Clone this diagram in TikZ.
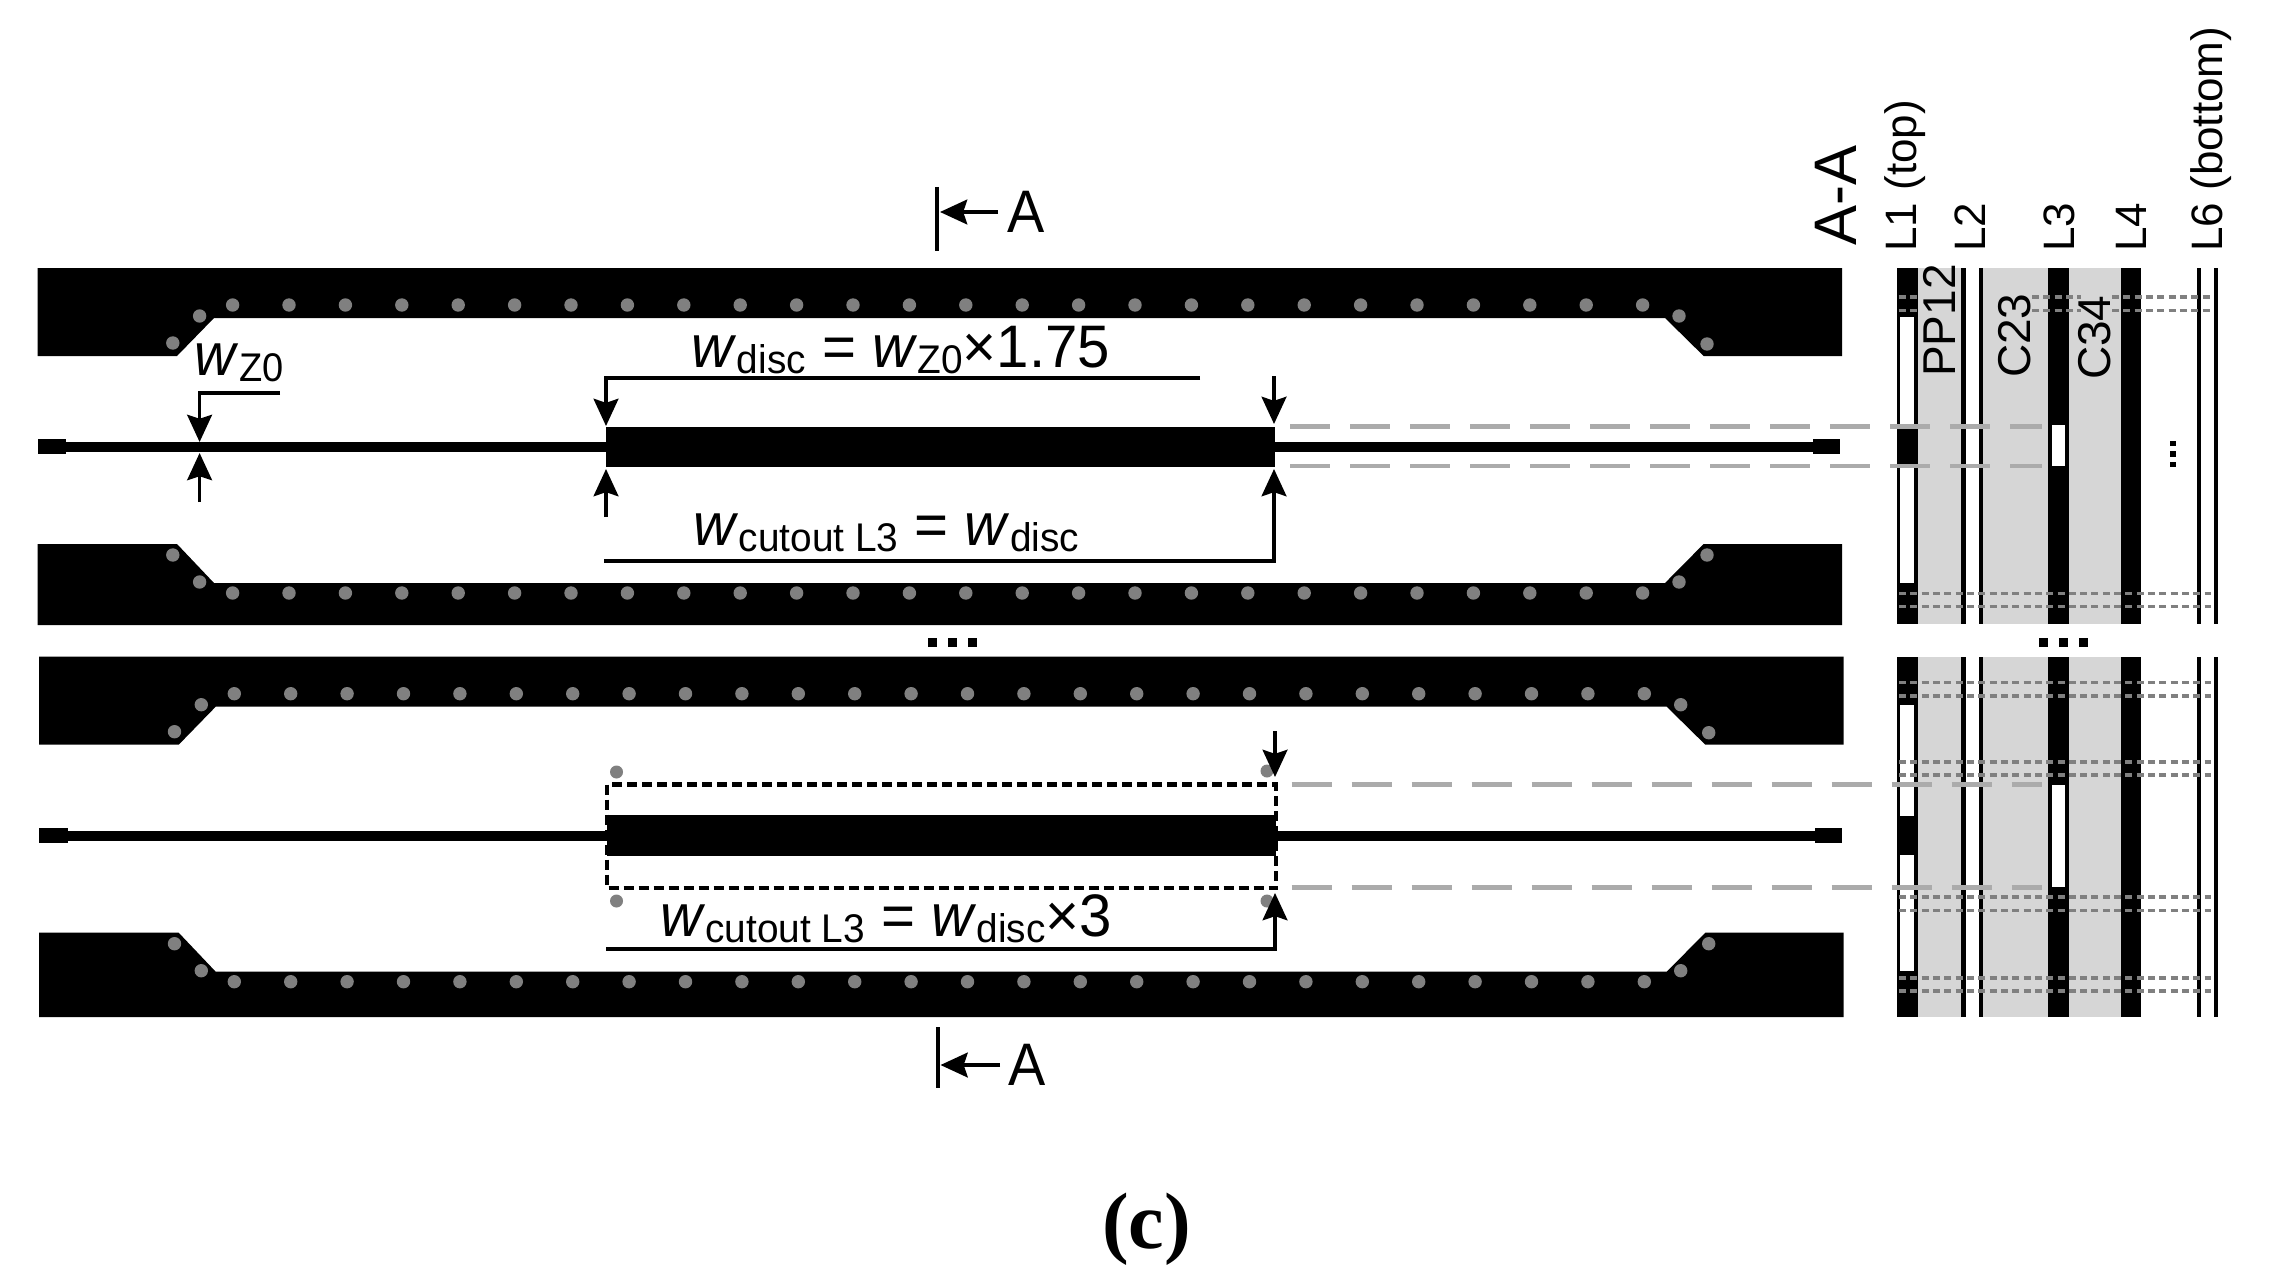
\documentclass[tikz,border=0pt]{standalone}
\usepackage{fontspec}
\usepackage{graphicx}
\setmainfont{Liberation Sans}
\newfontfamily\capfont{Liberation Serif}
\usetikzlibrary{arrows.meta}
\newcommand{\sz}[1]{\fontsize{#1}{#1}\selectfont}
\newcommand{\subt}[1]{\raisebox{-1.5pt}{\sz{10}#1}}
\newcommand{\narrow}[2]{\scalebox{#1}[1]{#2}}
\definecolor{viagray}{gray}{0.5}
\definecolor{panelgray}{gray}{0.84}
\definecolor{dashgray}{gray}{0.67}
\tikzset{
  lab/.style={inner sep=0pt,anchor=base west,font=\sz{15},text=black},
  vlab/.style={inner sep=0pt,anchor=base west,rotate=90,font=\sz{11},text=black},
  vlabb/.style={vlab,font=\sz{11.5}},
  dimline/.style={draw=black,line width=0.85pt,-{Stealth[length=6.8pt,width=6.2pt,inset=1pt]}},
  plainline/.style={draw=black,line width=0.85pt},
  via/.style={fill=viagray},
  metal/.style={fill=black},
  guide/.style={draw=dashgray,line width=1.2pt,dash pattern=on 10pt off 5pt},
  viarow/.style={draw=viagray,line width=0.9pt,dash pattern=on 1.75pt off 1.08pt},
  cutrect/.style={draw=black,line width=1.15pt,dash pattern=on 2.5pt off 1.25pt}
}
% one coplanar line seen from above: #1 = local y of the lower plane's bottom edge
\newcommand{\gcpwline}[1]{
  \fill[metal] (37.5,268) -- (1842,268) -- (1842,356) -- (1703.6,356) -- (1665,318) -- (214,318) -- (177,356) -- (37.5,356) -- cycle;
  \fill[metal] (37.5,#1) -- (1842,#1) -- (1842,544) -- (1703.6,544) -- (1665,583) -- (214,583) -- (177,544) -- (37.5,544) -- cycle;
  \foreach \i in {0,...,25} {
    \fill[via] ({232.6+56.4*\i},305) circle[radius=6.7];
    \fill[via] ({232.6+56.4*\i},593) circle[radius=6.7];
  }
  \foreach \vx/\vy in {199.6/316,172.8/343,1679/316,1707/344,199.6/582,172.8/555,1679/582,1707/555} {
    \fill[via] (\vx,\vy) circle[radius=6.7];
  }
  \fill[metal] (37.5,439) rectangle (66,454);
  \fill[metal] (1813,439) rectangle (1840,454);
  \fill[metal] (66,442) rectangle (606,452);
  \fill[metal] (1274.5,442) rectangle (1813,452);
}
\newcommand{\stackup}[2]{
  \fill[panelgray] (1917,#1) rectangle (1962,#2);
  \fill[panelgray] (1982,#1) rectangle (2049,#2);
  \fill[panelgray] (2068,#1) rectangle (2121,#2);
  \fill[metal] (1896.7,#1) rectangle (1917.5,#2);
  \fill[metal] (1961.3,#1) rectangle (1965.6,#2);
  \fill[metal] (1978.6,#1) rectangle (1982.8,#2);
  \fill[metal] (2048.2,#1) rectangle (2068.6,#2);
  \fill[metal] (2120.6,#1) rectangle (2140.8,#2);
  \fill[metal] (2196.8,#1) rectangle (2200.8,#2);
  \fill[metal] (2214.3,#1) rectangle (2218,#2);
}
\begin{document}
\begin{tikzpicture}[x=0.25pt,y=-0.25pt]
\useasboundingbox (0,0) rectangle (2276,1284);
\fill[white] (0,0) rectangle (2276,1284);

% upper line
\gcpwline{625}
\fill[metal] (606,427) rectangle (1274.5,467);

% lower line, with the L3 cutout outline and the neighbouring vias
\begin{scope}[shift={(1.7,388.7)}]
  \gcpwline{628.3}
\end{scope}
\foreach \vx/\vy in {616.5/772,616.5/901,1267/771,1267/901} {
  \fill[via] (\vx,\vy) circle[radius=6.5];
}
\draw[cutrect] (607,784.5) rectangle (1276,888);
\fill[metal] (607,815) rectangle (1276,856);

% dimension arrows, upper line
\coordinate (zA) at (280,393);
\coordinate (zB) at (199.6,393);
\coordinate (zC) at (199.6,442);
\coordinate (zD) at (199.6,502);
\coordinate (zE) at (199.6,453);
\draw[dimline] (zA) -- (zB) -- (zC);
\draw[dimline] (zD) -- (zE);
\coordinate (dA) at (1200,378);
\coordinate (dB) at (606,378);
\coordinate (dC) at (606,426);
\coordinate (dD) at (606,517);
\coordinate (dE) at (606,469);
\coordinate (dF) at (1274,376);
\coordinate (dG) at (1274,424);
\draw[dimline] (dA) -- (dB) -- (dC);
\draw[dimline] (dD) -- (dE);
\draw[dimline] (dF) -- (dG);
\coordinate (cA) at (604,561);
\coordinate (cB) at (1274,561);
\coordinate (cC) at (1274,469);
\draw[dimline] (cA) -- (cB) -- (cC);

% dimension arrows, lower line
\coordinate (eA) at (1275,731);
\coordinate (eB) at (1275,777);
\draw[dimline] (eA) -- (eB);
\coordinate (fA) at (606,949);
\coordinate (fB) at (1275,949);
\coordinate (fC) at (1275,893);
\draw[dimline] (fA) -- (fB) -- (fC);

% section marks
\coordinate (mA) at (937,187);
\coordinate (mB) at (937,251);
\coordinate (mC) at (998,212);
\coordinate (mD) at (940,212);
\draw[plainline] (mA) -- (mB);
\draw[dimline] (mC) -- (mD);
\node[lab] (secTop) at (1007,232) {\narrow{0.93}{A}};
\coordinate (nA) at (938,1027);
\coordinate (nB) at (938,1088);
\coordinate (nC) at (1000,1065);
\coordinate (nD) at (940.5,1065);
\draw[plainline] (nA) -- (nB);
\draw[dimline] (nC) -- (nD);
\node[lab] (secBot) at (1008,1085) {\narrow{0.93}{A}};

% ellipsis between the two lines
\foreach \dx in {928,947.7,967.7} { \fill[metal] (\dx,637.7) rectangle +(9,9); }

% labels on the plan
\node[lab] (wz) at (194,375) {\narrow{0.95}{\textit{w}\subt{Z0}}};
\node[lab] (wdisc) at (691,367) {\narrow{0.97}{\textit{w}\subt{disc} = \textit{w}\subt{Z0}×1.75}};
\node[lab] (wcutA) at (693,545) {\narrow{0.97}{\textit{w}\subt{cutout L3} = \textit{w}\subt{disc}}};
\node[lab] (wcutB) at (659.5,936.5) {\narrow{0.97}{\textit{w}\subt{cutout L3} = \textit{w}\subt{disc}×3}};

% cross sections
\stackup{268}{624}
\stackup{656.7}{1016.7}
% L1 and L3 openings, upper section
\fill[white] (1900,316.5) rectangle (1914.2,427);
\fill[white] (1900,467) rectangle (1914.2,583);
\fill[white] (2052,425) rectangle (2065.4,466);
% L1 and L3 openings, lower section
\fill[white] (1900,705) rectangle (1914.2,816);
\fill[white] (1900,855) rectangle (1914.2,971);
\fill[white] (2051.8,785) rectangle (2065.2,887.3);

% via rows through the section
\foreach \ry in {593.4,606.5,682.3,695.7,761.7,775,897,910.3,977.7,990.7} {
  \coordinate (rs) at (1899,\ry);
  \coordinate (re) at (2211,\ry);
  \draw[viarow] (rs) -- (re);
}
\foreach \ry in {297,310.6} {
  \coordinate (rs) at (1898.5,\ry);
  \coordinate (re) at (1917,\ry);
  \draw[viarow] (rs) -- (re);
  \coordinate (rs) at (2032,\ry);
  \coordinate (re) at (2080.5,\ry);
  \draw[viarow] (rs) -- (re);
  \coordinate (rs) at (2112,\ry);
  \coordinate (re) at (2210,\ry);
  \draw[viarow] (rs) -- (re);
}

% guide lines from the plan across the section
\foreach \gy/\gx in {426.5/1290,466/1290,784.3/1291.7,887.7/1291.7} {
  \coordinate (gs) at (\gx,\gy);
  \coordinate (ge) at (2042,\gy);
  \draw[guide] (gs) -- (ge);
}

% ellipses in the section
\foreach \dx in {2039,2059,2079} { \fill[metal] (\dx,637.7) rectangle +(9,9); }
\foreach \dy in {440.7,451,461.5} { \fill[metal] (2169.5,\dy) rectangle +(6,5.5); }

% section labels
\node[vlab,font=\sz{15}] (lAA) at (1856,246) {A-A};
\node[vlab] (lL1) at (1916.8,252.5) {L1 (top)};
\node[vlab] (lL2) at (1985,252.5) {L2};
\node[vlab] (lL3) at (2074,252.5) {L3};
\node[vlab] (lL4) at (2146,252.5) {L4};
\node[vlab] (lL6) at (2222.5,252.5) {L6 (bottom)};
\node[vlabb] (lPP) at (1955.4,377.5) {PP12};
\node[vlabb] (lC23) at (2030,378.6) {C23};
\node[vlabb] (lC34) at (2110,380.7) {C34};

% caption
\node[inner sep=0pt,anchor=base,font=\capfont\bfseries\sz{20}] (cap) at (1146.5,1248) {(c)};
\end{tikzpicture}
\end{document}
